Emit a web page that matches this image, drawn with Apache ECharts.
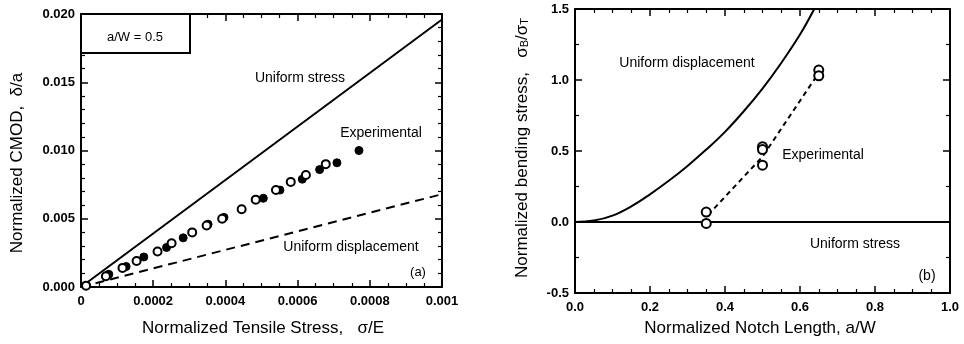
<!DOCTYPE html>
<html><head><meta charset="utf-8">
<script src="https://cdn.jsdelivr.net/npm/echarts@6/dist/echarts.min.js"></script>
<style>html,body{margin:0;padding:0;background:#fff}#c{width:964px;height:344px}</style>
</head><body><div id="c"></div>
<script>
// ---- Panel (a) data ----
const aXTicks = ['0','0.0002','0.0004','0.0006','0.0008','0.001'];
const aYTicks = ['0.000','0.005','0.010','0.015','0.020'];
const aUniformStress = [[0,0],[0.001,0.0196]];
const aUniformDisp = [[0,0],[0.001,0.0068]];
const aExpOpen = [[0.000014,0.0001],[0.000069,0.00079],[0.000115,0.0014],[0.000154,0.0019],[0.000212,0.0026],[0.000251,0.0032],[0.000308,0.0040],[0.000348,0.0045],[0.000391,0.0050],[0.000445,0.0057],[0.000484,0.0064],[0.00054,0.0071],[0.000581,0.0077],[0.000623,0.0082],[0.000678,0.0090]];
const aExpFilled = [[0.000077,0.00093],[0.000125,0.0015],[0.000174,0.0022],[0.000237,0.0029],[0.000283,0.0036],[0.000352,0.0046],[0.000396,0.0051],[0.000505,0.0065],[0.000551,0.0071],[0.000613,0.0079],[0.000661,0.0086],[0.000709,0.0091],[0.00077,0.0100]];
// ---- Panel (b) data ----
const bXTicks = ['0.0','0.2','0.4','0.6','0.8','1.0'];
const bYTicks = ['-0.5','0.0','0.5','1.0','1.5'];
const bUniformDisp = [[0,0],[0.05,0.01],[0.1,0.045],[0.15,0.11],[0.2,0.195],[0.25,0.29],[0.3,0.395],[0.35,0.51],[0.4,0.635],[0.45,0.78],[0.5,0.94],[0.55,1.12],[0.6,1.32],[0.638,1.5]];
const bUniformStress = [[0,0],[1,0]];
const bExpLine = [[0.355,0.05],[0.5,0.46],[0.65,1.05]];
const bExpPts = [[0.35,0.07],[0.35,-0.01],[0.5,0.53],[0.5,0.51],[0.5,0.40],[0.65,1.07],[0.65,1.03]];

const FONT = 'Liberation Sans';
const chart = echarts.init(document.getElementById('c'), null, {renderer:'canvas'});

function axisX(gi, min, max, interval, split, labels, show){
  return {type:'value', gridIndex:gi, min:min, max:max, interval:interval, position: show?'bottom':'top',
    axisLine:{show:true,onZero:false,lineStyle:{color:'#000',width:2}},
    axisTick:{show:true,inside:true,length:7,lineStyle:{color:'#000',width:1.5}},
    minorTick:{show:true,splitNumber:split,length:4,lineStyle:{color:'#000',width:1.2}},
    axisLabel:{show:show,color:'#000',fontFamily:FONT,fontSize:13,fontWeight:'bold',margin:8,
      formatter:(v,i)=>labels[i]},
    splitLine:{show:false},minorSplitLine:{show:false}};
}
function axisY(gi, min, max, interval, split, labels, show){
  return {type:'value', gridIndex:gi, min:min, max:max, interval:interval, position: show?'left':'right',
    axisLine:{show:true,onZero:false,lineStyle:{color:'#000',width:2}},
    axisTick:{show:true,inside:true,length:7,lineStyle:{color:'#000',width:1.5}},
    minorTick:{show:true,splitNumber:split,length:4,lineStyle:{color:'#000',width:1.2}},
    axisLabel:{show:show,color:'#000',fontFamily:FONT,fontSize:13,fontWeight:'bold',margin:6,
      formatter:(v,i)=>labels[i]},
    splitLine:{show:false},minorSplitLine:{show:false}};
}
const txt = (x,y,t,size,extra)=>Object.assign({type:'text',x:x,y:y,style:{text:t,fill:'#000',font:(size||13)+'px '+FONT,textAlign:'center',textVerticalAlign:'middle'}},extra||{});

chart.setOption({
  animation:false,
  backgroundColor:'#fff',
  grid:[{left:81,top:14,right:522,bottom:57},{left:575,top:9,right:14,bottom:51}],
  xAxis:[axisX(0,0,0.001,0.0002,4,aXTicks,true),axisX(0,0,0.001,0.0002,4,aXTicks,false),
         axisX(1,0,1,0.2,4,bXTicks,true),axisX(1,0,1,0.2,4,bXTicks,false)],
  yAxis:[axisY(0,0,0.02,0.005,5,aYTicks,true),axisY(0,0,0.02,0.005,5,aYTicks,false),
         axisY(1,-0.5,1.5,0.5,2,bYTicks,true),axisY(1,-0.5,1.5,0.5,2,bYTicks,false)],
  series:[
    {type:'line',xAxisIndex:0,yAxisIndex:0,data:aUniformStress,showSymbol:false,lineStyle:{color:'#000',width:2}},
    {type:'line',xAxisIndex:0,yAxisIndex:0,data:aUniformDisp,showSymbol:false,lineStyle:{color:'#000',width:2,type:[9,6]}},
    {type:'scatter',xAxisIndex:0,yAxisIndex:0,data:aExpFilled,symbol:'circle',symbolSize:8,itemStyle:{color:'#000',borderColor:'#000',borderWidth:1,opacity:1},z:3},
    {type:'scatter',xAxisIndex:0,yAxisIndex:0,data:aExpOpen,symbol:'circle',symbolSize:8,itemStyle:{color:'#fff',borderColor:'#000',borderWidth:2,opacity:1},z:4},
    {type:'line',xAxisIndex:2,yAxisIndex:2,data:bUniformDisp,smooth:0.4,showSymbol:false,lineStyle:{color:'#000',width:2}},
    {type:'line',xAxisIndex:2,yAxisIndex:2,data:bUniformStress,showSymbol:false,lineStyle:{color:'#000',width:2}},
    {type:'line',xAxisIndex:2,yAxisIndex:2,data:bExpLine,showSymbol:false,lineStyle:{color:'#000',width:2,type:[5,4]}},
    {type:'scatter',xAxisIndex:2,yAxisIndex:2,data:bExpPts,symbol:'circle',symbolSize:9,itemStyle:{color:'#fff',borderColor:'#000',borderWidth:2,opacity:1},z:4}
  ],
  graphic:[
    {type:'rect',shape:{x:81,y:14,width:109,height:39},style:{fill:'#fff',stroke:'#000',lineWidth:2},z:10},
    txt(135,37,'a/W = 0.5',13,{z:11}),
    txt(300,78,'Uniform stress',14),
    txt(381,133,'Experimental',14),
    txt(351,247,'Uniform displacement',14),
    txt(418,272,'(a)',13),
    txt(263,328,'Normalized Tensile Stress,   σ/E',17),
    txt(17,163,'Normalized CMOD,  δ/a',17,{rotation:Math.PI/2}),
    txt(687,63,'Uniform displacement',14),
    txt(823,155,'Experimental',14),
    txt(855,244,'Uniform stress',14),
    txt(927,276,'(b)',14),
    txt(760,328,'Normalized Notch Length, a/W',17),
    {type:'text',x:522,y:148,rotation:Math.PI/2,style:{
      rich:{s:{fontSize:11,fontFamily:FONT,fill:'#000',verticalAlign:'bottom'}},
      text:'Normalized bending stress,   σ{s|B}/σ{s|T}',fill:'#000',font:'17px '+FONT,textAlign:'center',textVerticalAlign:'middle'}}
  ]
});
</script></body></html>
